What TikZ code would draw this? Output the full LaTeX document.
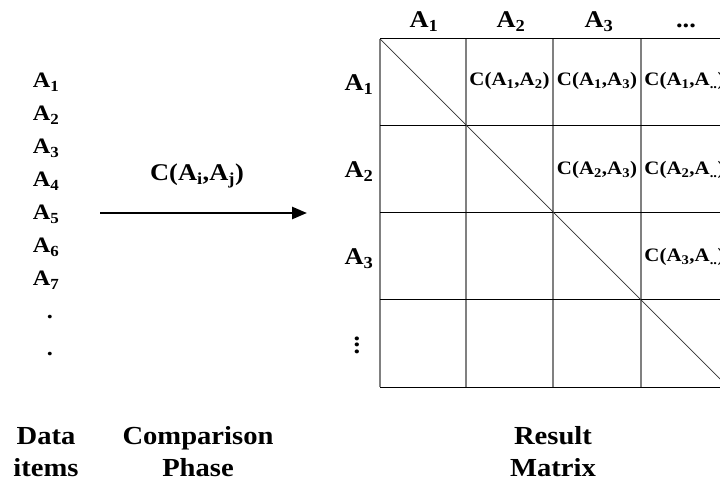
\documentclass[tikz,border=0pt]{standalone}
\usepackage{fontspec}
\setmainfont{Liberation Serif}[FakeStretch=1.1]
\usetikzlibrary{positioning,arrows.meta}

\begin{document}
\begin{tikzpicture}[
    x=1pt, y=-1pt,
    >={Triangle[length=15pt,width=12pt]},
    item/.style={font=\fontsize{22}{26}\selectfont\bfseries, inner sep=0pt, anchor=base},
    head/.style={font=\fontsize{24}{28}\selectfont\bfseries, inner sep=0pt, anchor=base},
    cell/.style={font=\fontsize{19}{23}\selectfont\bfseries, inner sep=0pt},
    caption/.style={font=\fontsize{26}{32}\selectfont\bfseries, align=center, inner sep=0pt},
    vline/.style={draw=black!50, line width=1.3pt},
    hline/.style={draw=black, line width=1pt},
    diag/.style={draw=black!80, line width=0.7pt}
]

  \useasboundingbox (0,0) rectangle (720,486);
  \clip (0,0) rectangle (720,486);

  % elementi di ingresso
  \node[item] (a1) at (46,88) {A\textsubscript{1}};
  \node[item] (a2) at (46,121) {A\textsubscript{2}};
  \node[item] (a3) at (46,154) {A\textsubscript{3}};
  \node[item] (a4) at (46,187) {A\textsubscript{4}};
  \node[item] (a5) at (46,220) {A\textsubscript{5}};
  \node[item] (a6) at (46,253) {A\textsubscript{6}};
  \node[item] (a7) at (46,286) {A\textsubscript{7}};
  \node[item] (d1) at (50,319) {.};
  \node[item] (d2) at (50,355) {.};

  % freccia di confronto
  \coordinate (p0) at (100,213);
  \coordinate (p1) at (307,213);
  \draw[->, line width=2.5pt] (p0) -- (p1);
  \node[head] (cij) at (197,181) {C(A\textsubscript{i},A\textsubscript{j})};

  % griglia della matrice
  \draw[vline] (380,39) -- (380,387);
  \draw[vline] (466,39) -- (466,387);
  \draw[vline] (553,39) -- (553,387);
  \draw[vline] (641,39) -- (641,387);
  \draw[hline] (380,39) -- (740,39);
  \draw[hline] (380,126) -- (740,126);
  \draw[hline] (380,213) -- (740,213);
  \draw[hline] (380,300) -- (740,300);
  \draw[hline] (380,387) -- (740,387);

  % diagonale
  \draw[diag] (380,39) -- (740,399);

  % intestazioni
  \node[head] (h1) at (424,28) {A\textsubscript{1}};
  \node[head] (h2) at (511,28) {A\textsubscript{2}};
  \node[head] (h3) at (599,28) {A\textsubscript{3}};
  \node[head] (h4) at (686,28) {...};
  \node[head] (r1) at (359,91) {A\textsubscript{1}};
  \node[head] (r2) at (359,178) {A\textsubscript{2}};
  \node[head] (r3) at (359,265) {A\textsubscript{3}};
  \node[head, anchor=center] (r4) at (357,345)
    {\vbox{\baselineskip=6.5pt\lineskiplimit=-20pt\hbox{.}\hbox{.}\hbox{.}}};

  % celle
  \node[cell] (c12) at (509.5,81) {C(A\textsubscript{1},A\textsubscript{2})};
  \node[cell] (c13) at (597,81) {C(A\textsubscript{1},A\textsubscript{3})};
  \node[cell] (c1n) at (684.5,81) {C(A\textsubscript{1},A\textsubscript{..})};
  \node[cell] (c23) at (597,170) {C(A\textsubscript{2},A\textsubscript{3})};
  \node[cell] (c2n) at (684.5,170) {C(A\textsubscript{2},A\textsubscript{..})};
  \node[cell] (c3n) at (684.5,257) {C(A\textsubscript{3},A\textsubscript{..})};

  % didascalie
  \node[caption] (data) at (46,452) {Data\\items};
  \node[caption] (phase) at (198,452) {Comparison\\Phase};
  \node[caption] (result) at (553,452) {Result\\Matrix};

\end{tikzpicture}
\end{document}
